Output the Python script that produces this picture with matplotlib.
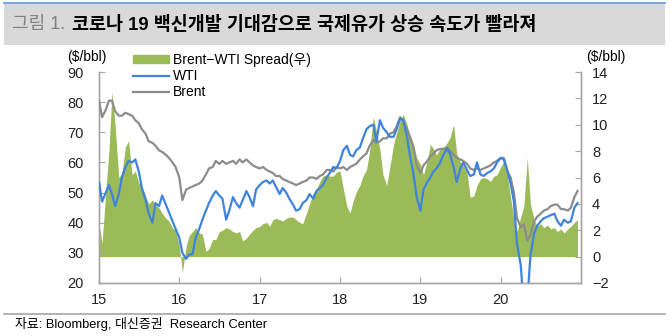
import matplotlib
matplotlib.use("Agg")
import matplotlib.pyplot as plt
import matplotlib.patches as mpatches
from matplotlib.lines import Line2D
import pandas as pd

plt.rcParams['font.family'] = ['Liberation Sans', 'Noto Sans CJK KR', 'DejaVu Sans']

# semi-monthly observations, Jan 2015 - Dec 2020
dates = pd.date_range('2015-01-01', periods=144, freq='SMS')

brent = [
    80.5, 75.0, 77.5, 80.5, 80.5, 77.0, 75.5, 75.5, 76.5, 76.0, 75.5, 74.0,
    73.0, 71.0, 69.5, 67.0, 66.5, 65.5, 64.0, 63.5, 62.5, 61.5, 60.0, 58.5,
    55.0, 47.5, 51.0, 51.5, 52.0, 52.5, 53.0, 54.0, 56.0, 58.0, 58.5, 60.5,
    59.5, 60.5, 59.5, 60.0, 60.5, 59.5, 61.0, 60.0, 61.0, 60.0, 59.0, 58.5,
    58.0, 58.5, 57.5, 57.0, 56.5, 55.5, 55.5, 54.5, 54.0, 53.5, 53.0, 52.5,
    53.0, 53.5, 54.0, 55.0, 55.0, 54.5, 55.5, 56.0, 57.5, 57.5, 57.0, 58.5,
    58.0, 58.5, 57.5, 58.5, 59.0, 59.5, 61.0, 62.0, 63.0, 65.5, 67.5, 66.5,
    67.0, 68.0, 68.0, 69.5, 70.0, 72.0, 75.0, 74.0, 71.0, 68.5, 65.0, 59.0,
    56.5, 59.0, 60.5, 62.0, 63.0, 64.0, 64.5, 64.5, 65.0, 64.0, 62.5, 61.5,
    61.0, 60.5, 59.5, 58.0, 57.5, 58.0, 57.5, 58.0, 58.5, 59.0, 60.0, 60.5,
    61.5, 61.5, 57.0, 55.0, 50.0, 41.5, 38.5, 39.5, 34.0, 36.0, 40.5, 42.0,
    43.0, 44.0, 44.5, 45.5, 46.0, 46.0, 44.5, 44.5, 44.0, 45.0, 48.5, 50.5,
]

wti = [
    53.5, 47.0, 50.0, 52.5, 49.5, 45.5, 49.5, 55.0, 58.5, 60.5, 60.0, 61.0,
    57.0, 51.5, 47.5, 43.0, 40.0, 46.5, 45.5, 49.0, 46.0, 43.5, 40.5, 38.0,
    35.0, 30.0, 28.0, 29.5, 29.5, 35.0, 38.0, 41.0, 44.0, 46.5, 49.0, 50.5,
    49.0, 48.0, 41.0, 44.0, 48.5, 46.5, 45.0, 47.5, 50.5, 48.5, 45.5, 51.0,
    52.5, 53.5, 54.0, 53.0, 54.0, 52.0, 49.5, 51.5, 50.0, 48.0, 46.0, 44.0,
    44.5, 46.5, 47.5, 49.5, 48.0, 50.5, 51.5, 52.5, 55.0, 56.5, 58.5, 58.0,
    60.5, 64.0, 65.5, 62.5, 62.0, 64.0, 65.0, 68.0, 71.0, 72.0, 72.5, 67.0,
    74.0, 71.5, 70.0, 68.5, 68.5, 71.0, 74.5, 74.0, 68.5, 62.0, 56.0, 48.5,
    44.0, 51.0, 53.5, 55.0, 57.0, 58.0, 60.0, 62.5, 64.5, 63.0, 58.5, 53.5,
    58.0, 60.0, 57.5, 55.5, 56.0, 60.0, 56.0, 55.5, 56.5, 57.0, 58.0, 60.0,
    61.5, 61.0, 57.0, 53.0, 47.0, 33.0, 26.0, 12.0, 14.0, 29.0, 36.5, 39.0,
    40.5, 41.5, 42.0, 42.5, 43.0, 40.5, 39.0, 41.0, 40.0, 40.5, 45.0, 46.5,
]

spread = [
    2.5, 1.0, 5.0, 8.0, 12.5, 10.0, 6.0, 6.3, 8.3, 8.8, 6.2, 6.5,
    5.6, 5.3, 4.6, 4.0, 4.3, 3.9, 3.7, 3.3, 2.9, 2.7, 2.2, 2.0,
    0.8, -1.2, 0.8, 1.6, 1.9, 2.2, 1.8, 1.7, 0.4, 0.6, 1.3, 1.3,
    1.9, 2.0, 2.2, 2.1, 1.9, 1.8, 1.9, 1.2, 1.4, 1.7, 2.0, 2.2,
    2.3, 2.5, 2.6, 2.3, 2.8, 2.9, 2.8, 2.7, 2.9, 3.0, 3.0, 2.8,
    2.6, 2.5, 3.3, 4.0, 4.8, 5.1, 5.7, 6.1, 6.2, 6.1, 6.1, 6.4,
    6.5, 5.2, 3.8, 3.3, 4.2, 4.9, 5.4, 6.1, 6.6, 8.0, 10.6, 9.5,
    8.1, 6.2, 5.4, 6.8, 8.5, 9.4, 10.3, 10.8, 10.0, 9.1, 8.4, 7.5,
    7.0, 6.2, 7.3, 8.5, 8.2, 7.7, 8.2, 8.2, 8.6, 9.0, 10.0, 7.8,
    7.2, 6.9, 6.4, 4.5, 4.6, 5.4, 5.9, 6.0, 5.9, 5.7, 6.1, 6.2,
    6.8, 7.2, 6.1, 4.5, 2.8, 1.9, 3.0, 3.8, 7.5, 4.0, 2.8, 2.3,
    2.5, 2.2, 2.4, 2.1, 2.2, 1.9, 2.1, 1.8, 2.1, 2.3, 2.6, 2.8,
]

year_ticks = [2015, 2016, 2017, 2018, 2019, 2020]
year_labels = ['15', '16', '17', '18', '19', '20']

GREEN = '#9bbb59'
BLUE = '#3f83dc'
GRAY = '#8c8c8c'
SPINE = '#a6a6a6'

fig = plt.figure(figsize=(6.7, 3.36), dpi=100)

# title band
fig.patches.append(mpatches.Rectangle((4 / 670, 1 - 45 / 336), 661 / 670, 41 / 336,
                                      transform=fig.transFigure, facecolor='#d9d9d9',
                                      edgecolor='none', zorder=0))
fig.add_artist(Line2D([4 / 670, 665 / 670], [1 - 3 / 336, 1 - 3 / 336],
                      transform=fig.transFigure, color='#5b9bd5', lw=1.2))
fig.text(12 / 670, 1 - 25 / 336, '그림 1.', color='#808080', fontsize=13,
         va='center', ha='left')
fig.text(72 / 670, 1 - 25 / 336, '코로나 19 백신개발 기대감으로 국제유가 상승 속도가 빨라져',
         color='black', fontsize=13.3, fontweight='bold', va='center', ha='left')

# footer
fig.add_artist(Line2D([4 / 670, 665 / 670], [1 - 314 / 336, 1 - 314 / 336],
                      transform=fig.transFigure, color='#a6a6a6', lw=1.2))
fig.text(15 / 670, 1 - 324 / 336, '자료: Bloomberg, 대신증권  Research Center',
         fontsize=9.3, va='center', ha='left')

ax = fig.add_axes([99 / 670, 1 - 283 / 336, 482 / 670, 211 / 336])
ax2 = ax.twinx()

# spread on the right axis, drawn behind the price lines
ax2.fill_between(dates, 0, spread, color=GREEN, lw=0, zorder=1)
ax2.set_ylim(-2, 14)
ax2.set_yticks(range(-2, 15, 2))

ax.set_zorder(ax2.get_zorder() + 1)
ax.patch.set_visible(False)
ax.plot(dates, brent, color=GRAY, lw=1.6, zorder=3)
ax.plot(dates, wti, color=BLUE, lw=1.6, zorder=4)
ax.set_ylim(20, 90)
ax.set_yticks(range(20, 91, 10))

ax.set_xlim(pd.Timestamp('2015-01-01'), pd.Timestamp('2020-12-31'))
ax.set_xticks([pd.Timestamp(f'{y}-01-01') for y in year_ticks])
ax.set_xticklabels(year_labels)

for a in (ax, ax2):
    a.spines['top'].set_visible(False)
    for s in ('left', 'right', 'bottom'):
        a.spines[s].set_color(SPINE)
        a.spines[s].set_linewidth(1.0)
    a.tick_params(direction='in', length=4, color=SPINE, labelsize=10.5,
                  labelcolor='#222222')
ax.tick_params(axis='y', pad=11)
ax2.tick_params(axis='y', pad=8)
ax.tick_params(axis='x', pad=7)

fig.text(87 / 670, 1 - 57 / 336, '($/bbl)', fontsize=10, ha='center', va='center')
fig.text(606 / 670, 1 - 57 / 336, '($/bbl)', fontsize=10, ha='center', va='center')

handles = [
    mpatches.Patch(color=GREEN),
    Line2D([], [], color=BLUE, lw=1.6),
    Line2D([], [], color=GRAY, lw=1.6),
]
fig.legend(handles, ['Brent−WTI Spread(우)', 'WTI', 'Brent'],
           loc='upper left', bbox_to_anchor=(133 / 670, 1 - 53 / 336),
           frameon=False, fontsize=10, handlelength=2.6, handleheight=0.45,
           handletextpad=0.25, labelspacing=0.15, borderpad=0, borderaxespad=0)

fig.savefig('out.png', dpi=100)
